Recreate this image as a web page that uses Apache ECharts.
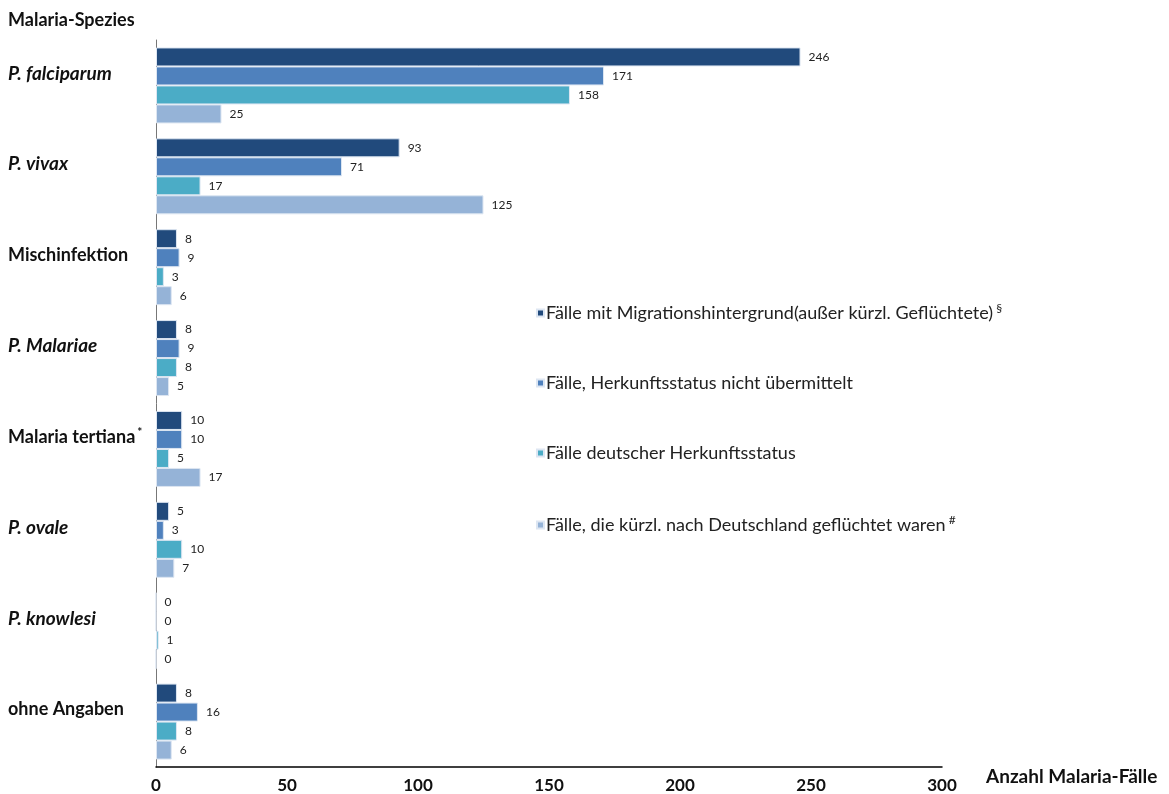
<!DOCTYPE html>
<html><head><meta charset="utf-8">
<script src="https://cdn.jsdelivr.net/npm/echarts@6/dist/echarts.min.js"></script>
<style>html,body{margin:0;padding:0;background:#fff}#c{width:1169px;height:794px}</style>
</head><body><div id="c"></div>
<script>
const categories = ['P. falciparum','P. vivax','Mischinfektion','P. Malariae','Malaria tertiana','P. ovale','P. knowlesi','ohne Angaben'];
const italicCats = ['P. falciparum','P. vivax','P. Malariae','P. ovale','P. knowlesi'];
const seriesNames = ['Fälle mit Migrationshintergrund(außer kürzl. Geflüchtete)','Fälle, Herkunftsstatus nicht übermittelt','Fälle deutscher Herkunftsstatus','Fälle, die kürzl. nach Deutschland geflüchtet waren'];
const seriesSup = ['§','','','#'];
const migration = [246, 93, 8, 8, 10, 5, 0, 8];
const notTransmitted = [171, 71, 9, 9, 10, 3, 0, 16];
const german = [158, 17, 3, 8, 5, 10, 1, 8];
const refugees = [25, 125, 6, 5, 17, 7, 0, 6];
const xTicks = {min: 0, max: 300, interval: 50};
const colors = ['#214a7c','#4f81bd','#4bacc6','#95b3d7'];
const values = [migration, notTransmitted, german, refugees];
const FONT = 'Lato';

const chart = echarts.init(document.getElementById('c'));
chart.setOption({
  animation: false,
  textStyle: {fontFamily: FONT},
  title: {text: 'Malaria-Spezies', left: 3, top: 6, textStyle: {fontFamily: FONT, fontSize: 18, fontWeight: 'bold', color: '#111'}},
  grid: {left: 156, right: 227, top: 40, bottom: 27, containLabel: false},
  legend: {
    orient: 'vertical', left: 531, top: 297, itemWidth: 7, itemHeight: 7, itemGap: 52,
    icon: 'rect',
    data: seriesNames,
    formatter: function (name) {
      const i = seriesNames.indexOf(name);
      return seriesSup[i] ? '{t|' + name + '} {s|' + seriesSup[i] + '}' : '{t|' + name + '}';
    },
    textStyle: {
      fontFamily: FONT, color: '#222', padding: [0,0,0,-3],
      rich: {
        t: {fontFamily: FONT, fontSize: 18, color: '#222', lineHeight: 20},
        s: {fontFamily: FONT, fontSize: 12, color: '#222', padding: [0,0,10,0]}
      }
    }
  },
  xAxis: {
    type: 'value', min: xTicks.min, max: xTicks.max, interval: xTicks.interval,
    name: 'Anzahl Malaria-Fälle', nameLocation: 'end', nameGap: 44,
    nameTextStyle: {fontFamily: FONT, fontSize: 19, fontWeight: 'bold', color: '#111', verticalAlign: 'top', padding: [0,0,0,0]},
    axisLine: {show: true, lineStyle: {color: '#000', width: 1.5}},
    axisTick: {show: false},
    splitLine: {show: false},
    axisLabel: {fontFamily: FONT, fontSize: 17, fontWeight: 'bold', color: '#111', margin: 10}
  },
  yAxis: {
    type: 'category', inverse: true, data: categories,
    axisLine: {show: true, lineStyle: {color: '#777', width: 1}},
    axisTick: {show: false},
    axisLabel: {
      align: 'left', margin: 148, padding: [0,0,24,0],
      formatter: function (v) {
        if (italicCats.indexOf(v) >= 0) return '{i|' + v + '}';
        if (v === 'Malaria tertiana') return '{b|' + v + '}{s|*}';
        return '{b|' + v + '}';
      },
      rich: {
        i: {fontFamily: FONT, fontSize: 19, fontWeight: 'bold', fontStyle: 'italic', color: '#111'},
        b: {fontFamily: FONT, fontSize: 18, fontWeight: 'bold', color: '#111'},
        s: {fontFamily: FONT, fontSize: 12, fontWeight: 'bold', color: '#111', padding: [0,0,9,2]}
      }
    }
  },
  series: values.map(function (d, i) {
    return {
      name: seriesNames[i], type: 'bar', data: d,
      barWidth: 19, barGap: '0%',
      itemStyle: {color: colors[i], borderColor: '#dde6f2', borderWidth: 1},
      label: {show: true, position: 'right', distance: 8, fontFamily: FONT, fontSize: 12, color: '#222'}
    };
  })
});
</script></body></html>
